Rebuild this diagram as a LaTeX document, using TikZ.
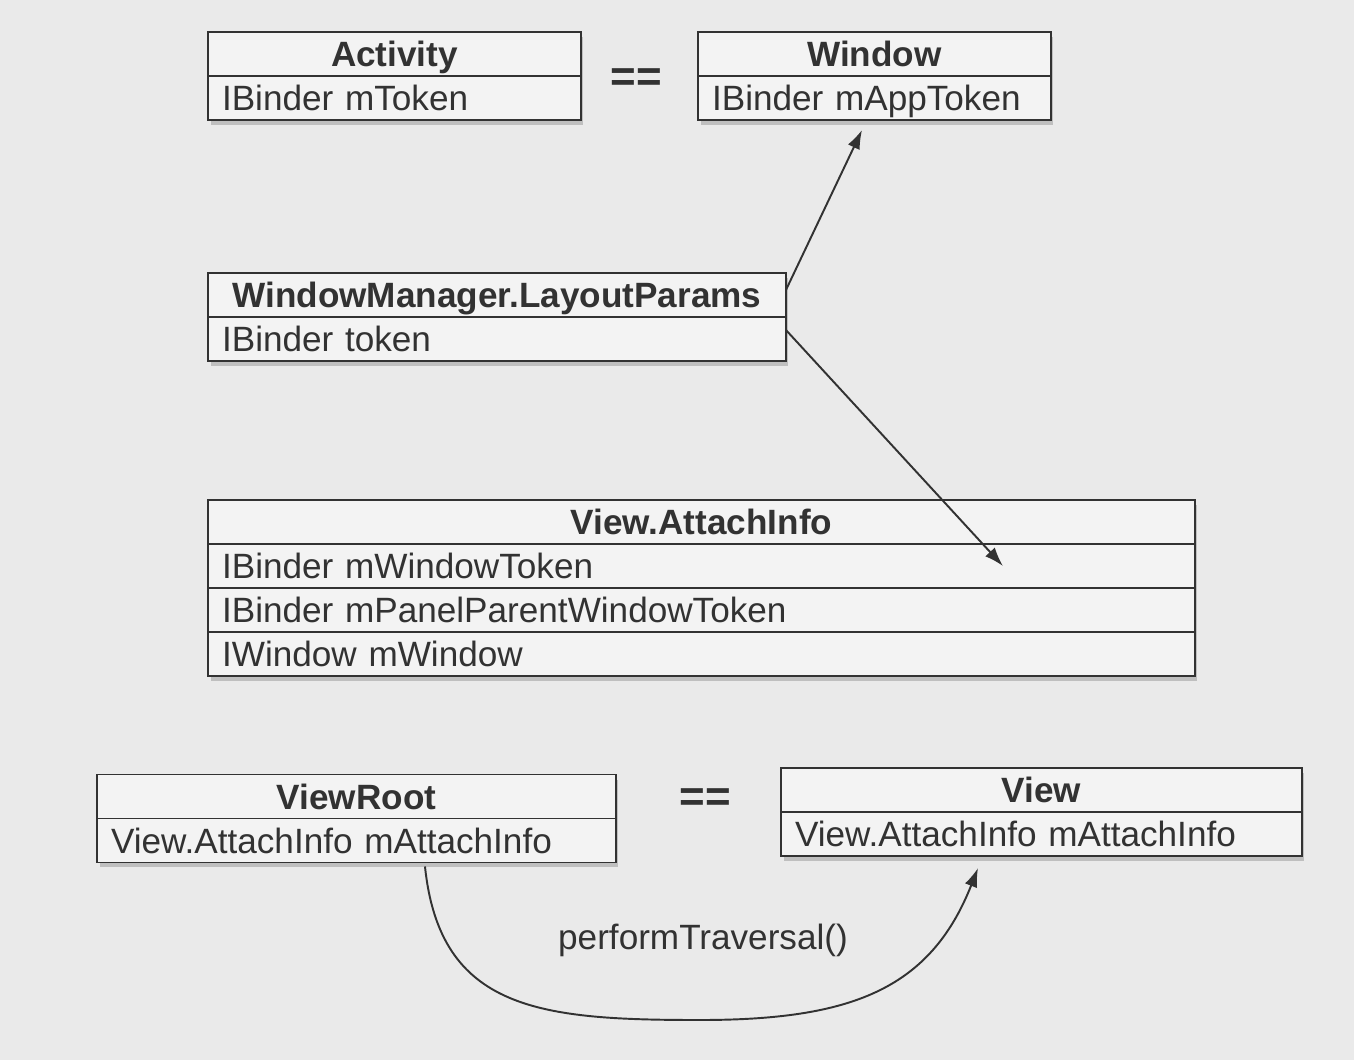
\documentclass[tikz,border=0pt]{standalone}
\usepackage{fontspec}
\setmainfont{Liberation Sans}
\usetikzlibrary{positioning,shadows,arrows.meta}
\definecolor{bgc}{RGB}{234,234,234}
\definecolor{boxc}{RGB}{243,243,243}
\definecolor{inkc}{RGB}{50,50,50}

\begin{document}
\begin{tikzpicture}[x=0.02cm,y=-0.02cm,
    cls/.style={draw=inkc, fill=boxc, line width=1.1pt, outer sep=0pt,
      text width=#1, inner xsep=0.28cm, inner ysep=0pt, minimum height=0.88cm,
      text height=14.3pt, text depth=0pt,
      text=inkc, font=\fontsize{20}{24}\selectfont,
      drop shadow={shadow xshift=0.05cm, shadow yshift=-0.1cm, opacity=0.4}},
    head/.style={cls=#1, align=center, font=\fontsize{20}{24}\selectfont\bfseries},
    row/.style={cls=#1, align=left},
    eq/.style={text=inkc, font=\fontsize{25}{30}\selectfont\bfseries},
    link/.style={draw=inkc, line width=1.1pt, -{Latex[length=0.38cm,width=0.26cm]}}]
            \useasboundingbox (0,0) rectangle (1354,1060);
            \fill[bgc] (0,0) rectangle (1354,1060);

            \node[head=6.9cm] (act) at (394.5,54) {Activity};
            \node[row=6.9cm, below=0pt of act] (act1) {IBinder mToken};

            \node[eq] (eq1) at (636,80) {==};

            \node[head=6.5cm] (win) at (874.5,54) {Window};
            \node[row=6.5cm, below=0pt of win] (win1) {IBinder mAppToken};

            \node[head=11cm] (lp) at (497,295) {WindowManager.LayoutParams};
            \node[row=11cm, below=0pt of lp] (lp1) {IBinder token};

            \node[head=19.18cm] (ai) at (701.5,522) {View.AttachInfo};
            \node[row=19.18cm, below=0pt of ai] (ai1) {IBinder mWindowToken};
            \node[row=19.18cm, below=0pt of ai1] (ai2) {IBinder mPanelParentWindowToken};
            \node[row=19.18cm, below=0pt of ai2] (ai3) {IWindow mWindow};

            \node[head=9.82cm] (vr) at (356.5,796.5) {ViewRoot};
            \node[row=9.82cm, below=0pt of vr] (vr1) {View.AttachInfo mAttachInfo};

            \node[eq] (eq2) at (705,800) {==};

            \node[head=9.86cm] (vw) at (1041.5,790) {View};
            \node[row=9.86cm, below=0pt of vw] (vw1) {View.AttachInfo mAttachInfo};

            \node[text=inkc, font=\fontsize{20}{24}\selectfont] (trav) at (703,940) {performTraversal()};
            \coordinate (low) at (700,1020);

            \draw[link] ([yshift=0.1cm]lp.east) -- ([xshift=-0.25cm,yshift=-0.2cm]win1.south);
            \draw[link] ([yshift=0.18cm]lp1.east) -- ([xshift=-3.84cm]ai1.east);
            \draw[link] ([xshift=1.37cm,yshift=-0.08cm]vr1.south)
              .. controls +(15,144) and +(-160,0) .. (low)
              .. controls +(150,0) and +(-48,122) .. ([xshift=-1.27cm,yshift=-0.24cm]vw1.south);
          \end{tikzpicture}
\end{document}
